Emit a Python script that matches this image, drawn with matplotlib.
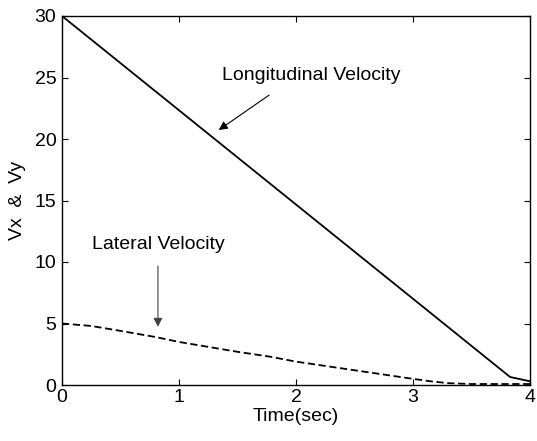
import numpy as np
import matplotlib.pyplot as plt

plt.rcParams["font.family"] = ["Liberation Sans", "DejaVu Sans"]

# longitudinal velocity (solid)
vx_t = [0.0, 3.83, 4.0]
vx = [30.0, 0.65, 0.3]

# lateral velocity (dashed)
vy_t = [0.0, 0.25, 0.5, 0.8, 1.0, 1.25, 1.5, 1.78, 2.0, 2.25, 2.5, 2.75, 3.0, 3.15, 3.3, 3.5, 4.0]
vy = [5.0, 4.8, 4.4, 3.9, 3.5, 3.1, 2.7, 2.3, 1.9, 1.55, 1.2, 0.85, 0.5, 0.3, 0.15, 0.08, 0.08]

xticks = [0, 1, 2, 3, 4]
yticks = [0, 5, 10, 15, 20, 25, 30]

fig = plt.figure(figsize=(5.37, 4.41), dpi=100)
ax = fig.add_axes([62 / 537, 56 / 441, 468 / 537, 369 / 441])

ax.plot(vx_t, vx, color="black", lw=1.3)
ax.plot(vy_t, vy, color="black", lw=1.3, ls=(0, (4, 2)))

ax.set_xlim(0, 4)
ax.set_ylim(0, 30)
ax.set_xticks(xticks)
ax.set_yticks(yticks)
ax.tick_params(direction="in", length=4, labelsize=14)
ax.tick_params(axis="x", pad=3)
ax.tick_params(axis="y", pad=4)
ax.tick_params(top=True, right=True, labeltop=False, labelright=False)
for s in ax.spines.values():
    s.set_linewidth(1.0)

ax.set_xlabel("Time(sec)", fontsize=14, labelpad=1)
ax.set_ylabel("Vx  &  Vy", fontsize=14, labelpad=6)

ax.text(1.37, 25.2, "Longitudinal Velocity", fontsize=14, ha="left", va="center")
ax.annotate("", xy=(1.32, 20.6), xytext=(1.79, 23.7),
            arrowprops=dict(arrowstyle="-|>", color="black", lw=0.8, mutation_scale=13))

ax.text(0.825, 11.4, "Lateral Velocity", fontsize=14, ha="center", va="center")
ax.annotate("", xy=(0.82, 4.5), xytext=(0.82, 9.9),
            arrowprops=dict(arrowstyle="-|>", color="0.25", lw=0.8, mutation_scale=13))

fig.savefig("out.png", dpi=100)
